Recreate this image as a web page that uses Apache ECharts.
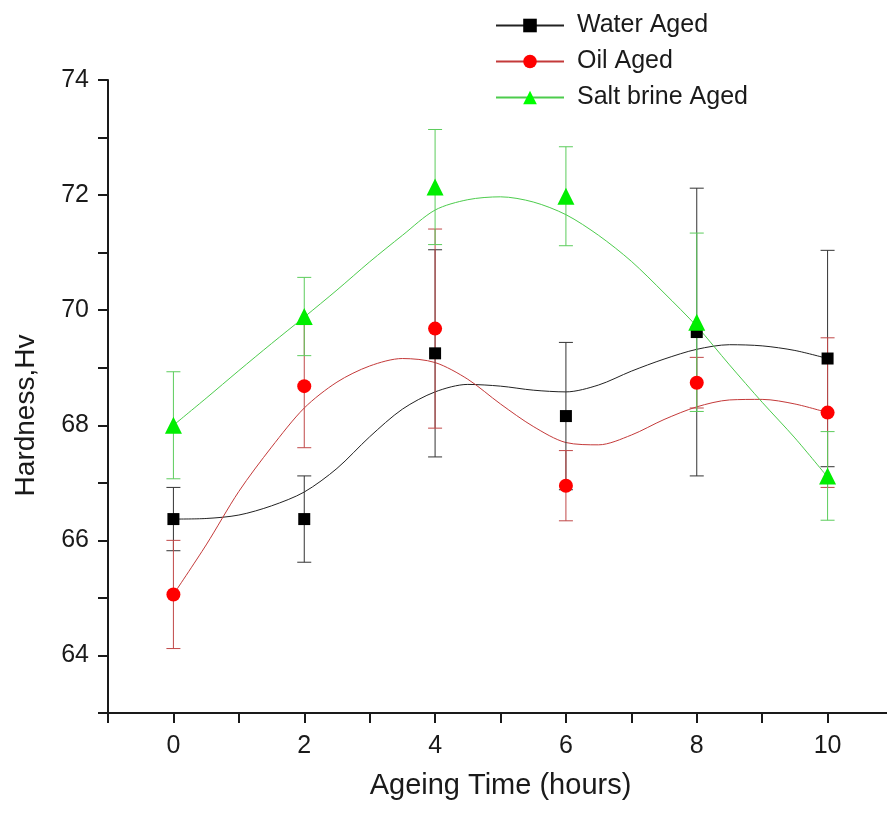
<!DOCTYPE html>
<html>
<head>
<meta charset="utf-8">
<title>Hardness vs ageing time</title>
<script src="https://cdn.jsdelivr.net/npm/echarts@6/dist/echarts.min.js"></script>
<style>
	html, body { margin: 0; padding: 0; background: #fff; overflow: hidden; }
	#chart { width: 887px; height: 813px; }
</style>
</head>
<body>
<div id="chart"></div>
<script>
// measured points (mean and +/- error) at each ageing time
var hours = [0, 2, 4, 6, 8, 10];
var waterMean = [66.37, 66.37, 69.25, 68.16, 69.62, 69.16];
var waterErr = [0.55, 0.75, 1.80, 1.28, 2.50, 1.88];
var oilMean = [65.06, 68.68, 69.68, 66.95, 68.74, 68.22];
var oilErr = [0.94, 1.07, 1.73, 0.61, 0.44, 1.30];
var saltMean = [68.00, 69.89, 72.14, 71.98, 69.79, 67.12];
var saltErr = [0.93, 0.68, 1.00, 0.86, 1.55, 0.77];

// spline curves
var curveHours = [0, 0.5, 1, 1.5, 2, 2.5, 3, 3.5, 4, 4.5, 5, 5.5, 6, 6.5, 7, 7.5, 8, 8.5, 9, 9.5, 10];
var waterFit = [66.37, 66.38, 66.44, 66.6, 66.84, 67.25, 67.8, 68.28, 68.58, 68.71, 68.68, 68.61, 68.58, 68.7, 68.94, 69.15, 69.32, 69.4, 69.38, 69.3, 69.16];
var oilFit = [65.06, 65.92, 66.85, 67.62, 68.3, 68.75, 69.03, 69.16, 69.09, 68.8, 68.37, 67.98, 67.7, 67.66, 67.83, 68.1, 68.32, 68.44, 68.45, 68.37, 68.22];
var saltFit = [68.0, 68.47, 68.95, 69.42, 69.88, 70.35, 70.84, 71.3, 71.74, 71.92, 71.97, 71.88, 71.66, 71.3, 70.85, 70.3, 69.72, 69.05, 68.4, 67.78, 67.1];

// tick labels (only these values get a label; the odd values are minor ticks)
var xLabels = [0, 2, 4, 6, 8, 10];
var yLabels = [64, 66, 68, 70, 72, 74];

var fontName = '"Liberation Sans", Arial, sans-serif';
var axisColor = '#1a1a1a';

function pairs(xs, ys) {
	return xs.map(function (x, i) { return [x, ys[i]]; });
}

function onlyLabels(list) {
	return function (v) {
		return list.indexOf(Math.round(v)) >= 0 ? String(Math.round(v)) : '';
	};
}

function errorBars(name, mean, err, color) {
	var data = hours.map(function (h, i) {
		return [h, mean[i] - err[i], mean[i] + err[i]];
	});
	return {
		type: 'custom',
		name: name,
		data: data,
		z: 3,
		silent: true,
		encode: { x: 0, y: [1, 2] },
		renderItem: function (params, api) {
			var lo = api.coord([api.value(0), api.value(1)]);
			var hi = api.coord([api.value(0), api.value(2)]);
			var half = 7;
			var style = { stroke: color, lineWidth: 1 };
			return {
				type: 'group',
				children: [
					{ type: 'line', shape: { x1: lo[0], y1: lo[1], x2: hi[0], y2: hi[1] }, style: style },
					{ type: 'line', shape: { x1: lo[0] - half, y1: lo[1], x2: lo[0] + half, y2: lo[1] }, style: style },
					{ type: 'line', shape: { x1: hi[0] - half, y1: hi[1], x2: hi[0] + half, y2: hi[1] }, style: style }
				]
			};
		}
	};
}

function fitLine(name, fit, lineColor, markColor, symbol) {
	return {
		type: 'line',
		name: name,
		data: pairs(curveHours, fit),
		smooth: 0.3,
		showSymbol: false,
		symbol: symbol,
		z: 2,
		silent: true,
		lineStyle: { color: lineColor, width: 1 },
		itemStyle: { color: markColor }
	};
}

function points(name, mean, color, symbol, size) {
	return {
		type: 'scatter',
		name: name,
		data: pairs(hours, mean),
		symbol: symbol,
		symbolSize: size,
		z: 5,
		itemStyle: { color: color, opacity: 1 }
	};
}

var myChart = echarts.init(document.getElementById('chart'), null, { renderer: 'canvas' });

var option = {
	backgroundColor: '#ffffff',
	animation: false,
	textStyle: { fontFamily: fontName },
	// the x axis runs past the right edge of the picture, as in the original
	grid: { left: 108, right: -6, top: 80, bottom: 100, containLabel: false, outerBoundsMode: 'none' },
	legend: {
		orient: 'vertical',
		left: 490,
		top: 8,
		itemWidth: 68,
		itemHeight: 17,
		itemGap: 11,
		data: ['Water Aged', 'Oil Aged', 'Salt brine Aged'],
		textStyle: { fontSize: 25, color: axisColor, fontFamily: fontName, padding: [0, 0, 0, 8] }
	},
	xAxis: {
		type: 'value',
		min: -1,
		max: 11,
		interval: 1,
		position: 'bottom',
		name: 'Ageing Time (hours)',
		nameLocation: 'middle',
		nameGap: 58,
		nameTextStyle: { fontSize: 29, color: axisColor },
		axisLine: { onZero: false, lineStyle: { color: axisColor, width: 2 } },
		axisTick: { show: true, interval: 0, length: 10, lineStyle: { color: axisColor, width: 2 } },
		axisLabel: { interval: 0, showMinLabel: true, showMaxLabel: true, formatter: onlyLabels(xLabels), fontSize: 25, color: axisColor, margin: 21 },
		splitLine: { show: false }
	},
	yAxis: {
		type: 'value',
		min: 63,
		max: 74,
		interval: 1,
		position: 'left',
		name: 'Hardness,Hv',
		nameLocation: 'middle',
		nameGap: 68,
		nameTextStyle: { fontSize: 28, color: axisColor, padding: [0, 38, 0, 0] },
		axisLine: { onZero: false, lineStyle: { color: axisColor, width: 2 } },
		axisTick: { show: true, interval: 0, length: 10, lineStyle: { color: axisColor, width: 2 } },
		axisLabel: { interval: 0, formatter: onlyLabels(yLabels), fontSize: 25, color: axisColor, margin: 19 },
		splitLine: { show: false }
	},
	series: [
		// fitted curves first so the legend takes its icon from them
		fitLine('Water Aged', waterFit, '#222222', '#000000', 'rect'),
		fitLine('Oil Aged', oilFit, '#c43a3a', '#ff0000', 'circle'),
		fitLine('Salt brine Aged', saltFit, '#4ccc4c', '#00ff00', 'triangle'),

		errorBars('Water Aged', waterMean, waterErr, '#333333'),
		errorBars('Oil Aged', oilMean, oilErr, '#c04848'),
		errorBars('Salt brine Aged', saltMean, saltErr, '#5ccc5c'),

		points('Water Aged', waterMean, '#000000', 'rect', 12),
		points('Oil Aged', oilMean, '#ff0000', 'circle', 14),
		points('Salt brine Aged', saltMean, '#00ee00', 'triangle', 17)
	]
};

if (option && typeof option === 'object') {
	myChart.setOption(option, true);
}
</script>
</body>
</html>
